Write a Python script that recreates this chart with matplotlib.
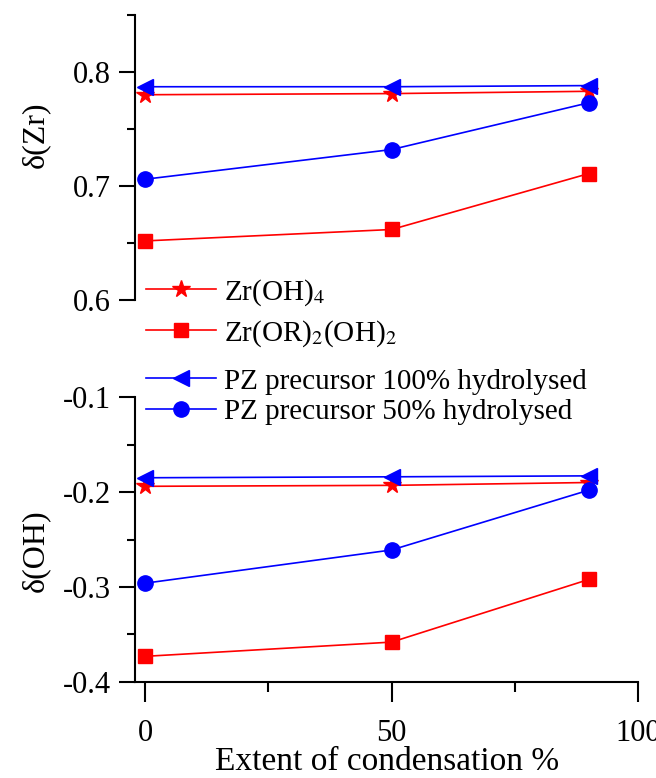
import numpy as np
import matplotlib
matplotlib.use('Agg')
import matplotlib.pyplot as plt
from matplotlib.ticker import MultipleLocator

# Data
x = [0, 50, 90]
labels = ['Zr(OH)$_4$', 'Zr(OR)$_2$(OH)$_2$',
          'PZ precursor 100% hydrolysed', 'PZ precursor 50% hydrolysed']
zr_oh4_zr = [0.780, 0.781, 0.783]
zr_or2_zr = [0.652, 0.662, 0.711]
pz100_zr = [0.787, 0.787, 0.788]
pz50_zr = [0.706, 0.732, 0.773]
zr_oh4_oh = [-0.194, -0.193, -0.190]
zr_or2_oh = [-0.373, -0.358, -0.292]
pz100_oh = [-0.185, -0.184, -0.183]
pz50_oh = [-0.296, -0.261, -0.198]

plt.rcParams['font.family'] = ['Liberation Serif', 'DejaVu Serif']
plt.rcParams['mathtext.fontset'] = 'stix'
plt.rcParams['axes.unicode_minus'] = False
fs = 22

styles = [dict(color='#ff0000', marker='*', ms=13),
          dict(color='#ff0000', marker='s', ms=10),
          dict(color='#0000ff', marker='<', ms=11),
          dict(color='#0000ff', marker='o', ms=11)]

fig = plt.figure(figsize=(6.56, 7.78), dpi=100)
ax1 = fig.add_axes([0.206, 0.614, 0.767, 0.367])
ax2 = fig.add_axes([0.206, 0.1234, 0.767, 0.3663])

top_series = [zr_oh4_zr, zr_or2_zr, pz100_zr, pz50_zr]
bot_series = [zr_oh4_oh, zr_or2_oh, pz100_oh, pz50_oh]

handles = []
for ys, st in zip(top_series, styles):
    h, = ax1.plot(x, ys, lw=1.2, clip_on=False, **st)
    handles.append(h)
for ys, st in zip(bot_series, styles):
    ax2.plot(x, ys, lw=1.2, clip_on=False, **st)

for ax in (ax1, ax2):
    ax.set_xlim(-2, 100)
    ax.spines['top'].set_visible(False)
    ax.spines['right'].set_visible(False)
    ax.spines['left'].set_linewidth(1.5)
    ax.spines['bottom'].set_linewidth(1.5)
    ax.tick_params(axis='y', which='major', length=11.5, width=1.5,
                   labelsize=fs, pad=6)
    ax.tick_params(axis='y', which='minor', length=5.8, width=1.5)
    ax.tick_params(axis='x', which='major', length=14.4, width=1.5,
                   labelsize=fs, pad=12)
    ax.tick_params(axis='x', which='minor', length=7.2, width=1.5)

ax1.set_ylim(0.6, 0.85)
ax1.yaxis.set_minor_locator(MultipleLocator(0.05))
ax1.set_yticks([0.6, 0.7, 0.8])
ax1.spines['bottom'].set_visible(False)
ax1.tick_params(axis='x', which='both', bottom=False, labelbottom=False)
ax1.set_ylabel('δ(Zr)', fontsize=fs + 1)
ax1.yaxis.set_label_coords(-0.17, 0.58)

ax2.set_ylim(-0.4, -0.1)
ax2.yaxis.set_major_locator(MultipleLocator(0.1))
ax2.yaxis.set_minor_locator(MultipleLocator(0.05))
ax2.xaxis.set_major_locator(MultipleLocator(50))
ax2.xaxis.set_minor_locator(MultipleLocator(25))
ax2.set_ylabel('δ(OH)', fontsize=fs + 1)
ax2.yaxis.set_label_coords(-0.17, 0.46)
ax2.set_xlabel('Extent of condensation %', fontsize=fs + 2, labelpad=-1)

leg_kw = dict(frameon=False, fontsize=fs - 1, handlelength=2.4,
              handletextpad=0.3, borderaxespad=0, borderpad=0)
fig.legend(handles[:2], labels[:2], loc='center left',
           bbox_to_anchor=(0.222, 0.598), labelspacing=0.35, **leg_kw)
fig.legend(handles[2:], labels[2:], loc='center left',
           bbox_to_anchor=(0.222, 0.490), labelspacing=0.15, **leg_kw)

fig.savefig('out.png', dpi=100)
